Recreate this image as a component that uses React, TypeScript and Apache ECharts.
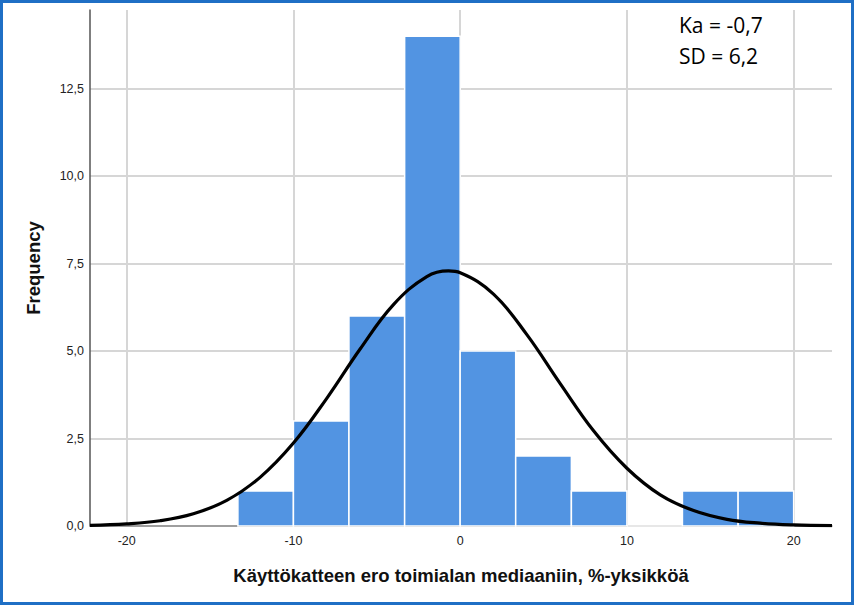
import React, { useEffect, useRef } from "react";
import * as echarts from "echarts";

// Histogram bins (edges) and counts
const binStarts = [-13.33, -10, -6.67, -3.33, 0, 3.33, 6.67, 10, 13.33, 16.67];
const binEnds = [-10, -6.67, -3.33, 0, 3.33, 6.67, 10, 13.33, 16.67, 20];
const counts = [1, 3, 6, 14, 5, 2, 1, 0, 1, 1];

// Fitted normal curve
const curveX = [-22.2, -20, -18, -16, -14, -12, -10, -8, -6, -4, -2, -0.7, 0, 2, 4, 6, 8, 10, 12, 14, 16, 18, 20, 22.3];
const curveY = [0.02, 0.06, 0.15, 0.35, 0.73, 1.39, 2.37, 3.65, 5.06, 6.33, 7.13, 7.29, 7.24, 6.63, 5.47, 4.07, 2.72, 1.65, 0.89, 0.44, 0.19, 0.08, 0.03, 0.01];

// Tick labels
const xTicks = [-20, -10, 0, 10, 20];
const yTicks = [0, 2.5, 5, 7.5, 10, 12.5];

const xTitle = "Käyttökatteen ero toimialan mediaaniin, %-yksikköä";
const yTitle = "Frequency";
const noteLines = ["Ka = -0,7", "SD = 6,2"];

export default function App() {
  const ref = useRef<HTMLDivElement>(null);
  useEffect(() => {
    if (!ref.current) return;
    const chart = echarts.init(ref.current, null, { renderer: "svg" });
    const barData = binStarts.map((s, i) => [s, binEnds[i], counts[i]]);
    const curveData = curveX.map((x, i) => [x, curveY[i]]);
    chart.setOption({
      animation: false,
      backgroundColor: "#ffffff",
      grid: { left: 90, top: 10, right: 22, bottom: 79, containLabel: false },
      xAxis: {
        type: "value",
        min: -22.2,
        max: 22.3,
        axisLine: { show: true, onZero: false, lineStyle: { color: "#8c8c8c", width: 1.5 } },
        axisTick: { show: false, customValues: xTicks },
        axisLabel: {
          customValues: xTicks,
          margin: 8,
          fontFamily: "Liberation Sans, Arial, sans-serif",
          fontSize: 12.5,
          color: "#222222",
        },
        splitLine: { show: true, lineStyle: { color: "#d6d6d6", width: 2 } },
      },
      yAxis: {
        type: "value",
        min: 0,
        max: 14.75,
        axisLine: { show: true, onZero: false, lineStyle: { color: "#555555", width: 1.5 } },
        axisTick: { show: false, customValues: yTicks },
        axisLabel: {
          customValues: yTicks,
          margin: 6,
          fontFamily: "Liberation Sans, Arial, sans-serif",
          fontSize: 12.5,
          color: "#222222",
          formatter: (v: number) => v.toFixed(1).replace(".", ","),
        },
        splitLine: { show: true, lineStyle: { color: "#d6d6d6", width: 2 } },
      },
      series: [
        {
          type: "custom",
          data: barData,
          encode: { x: [0, 1], y: 2 },
          z: 2,
          renderItem: (params: any, api: any) => {
            const p0 = api.coord([api.value(0), api.value(2)]);
            const p1 = api.coord([api.value(1), 0]);
            return {
              type: "rect",
              shape: { x: p0[0], y: p0[1], width: p1[0] - p0[0], height: p1[1] - p0[1] },
              style: { fill: "#5294e2", stroke: "#ffffff", lineWidth: 1.5 },
            };
          },
        },
        {
          type: "line",
          data: curveData,
          smooth: 0.4,
          showSymbol: false,
          z: 3,
          lineStyle: { color: "#000000", width: 3.2 },
        },
      ],
      graphic: [
        {
          type: "rect",
          z: 100,
          shape: { x: 1.5, y: 1.5, width: 851, height: 602 },
          style: { fill: "none", stroke: "#1f6fc5", lineWidth: 3 },
        },
        {
          type: "text",
          x: 461,
          y: 575,
          style: {
            text: xTitle,
            align: "center",
            verticalAlign: "middle",
            fontFamily: "Liberation Sans, Arial, sans-serif",
            fontWeight: "bold",
            fontSize: 18.5,
            fill: "#111111",
          },
        },
        {
          type: "text",
          x: 33,
          y: 268,
          rotation: Math.PI / 2,
          style: {
            text: yTitle,
            align: "center",
            verticalAlign: "middle",
            fontFamily: "Liberation Sans, Arial, sans-serif",
            fontWeight: "bold",
            fontSize: 18.5,
            fill: "#111111",
          },
        },
        {
          type: "text",
          x: 679,
          y: 24.5,
          style: {
            text: noteLines[0],
            align: "left",
            verticalAlign: "middle",
            fontFamily: "Open Sans, sans-serif",
            fontSize: 21,
            fill: "#000000",
          },
        },
        {
          type: "text",
          x: 679,
          y: 56,
          style: {
            text: noteLines[1],
            align: "left",
            verticalAlign: "middle",
            fontFamily: "Open Sans, sans-serif",
            fontSize: 21,
            fill: "#000000",
          },
        },
      ],
    });
    return () => chart.dispose();
  }, []);
  return (
    <div
      ref={ref}
      style={{ position: "absolute", left: 0, top: 0, width: 854, height: 605 }}
    />
  );
}
